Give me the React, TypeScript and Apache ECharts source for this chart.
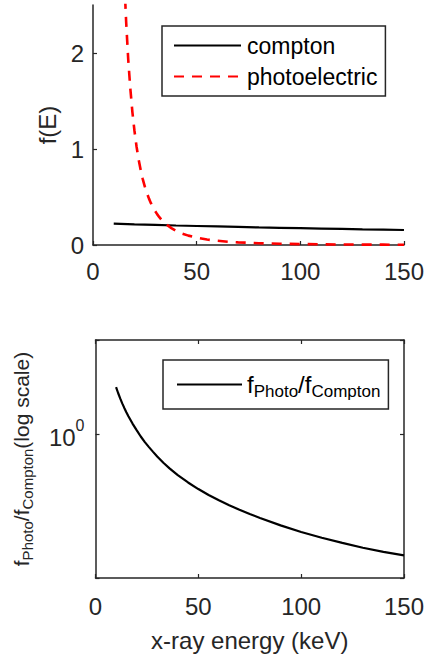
import React, { useEffect, useRef } from 'react';
import * as echarts from 'echarts';

// ---- data ----
const photoEnergy = [10, 11, 12, 13, 14, 15, 16, 17, 18, 19, 20, 21, 22, 23, 24, 25, 26, 27, 28, 29, 30, 31, 32, 33, 34, 36, 38, 40, 43, 46, 50, 55, 60, 65, 70, 80, 90, 100, 110, 120, 130, 140, 150];
const photoelectric = [9.5, 7.14, 5.5, 4.32, 3.46, 2.81, 2.32, 1.93, 1.63, 1.385, 1.19, 1.026, 0.892, 0.781, 0.687, 0.608, 0.541, 0.483, 0.433, 0.39, 0.352, 0.319, 0.29, 0.264, 0.242, 0.204, 0.173, 0.148, 0.119, 0.0976, 0.076, 0.0571, 0.044, 0.0346, 0.0277, 0.0186, 0.013, 0.0095, 0.0071, 0.0055, 0.0043, 0.0035, 0.0028];

const comptonEnergy = [10, 20, 30, 40, 50, 60, 70, 80, 90, 100, 110, 120, 130, 140, 150];
const compton = [0.222, 0.215, 0.209, 0.203, 0.198, 0.193, 0.188, 0.183, 0.179, 0.175, 0.171, 0.167, 0.163, 0.16, 0.156];

const ratioEnergy = [10, 11, 12, 13, 14, 15, 16, 18, 20, 22, 24, 26, 28, 30, 33, 36, 40, 45, 50, 55, 60, 65, 70, 75, 80, 90, 100, 110, 120, 130, 140, 150];
const ratio = [1.585, 1.497, 1.421, 1.354, 1.296, 1.243, 1.196, 1.114, 1.046, 0.983, 0.931, 0.887, 0.847, 0.81, 0.762, 0.722, 0.676, 0.63, 0.591, 0.558, 0.53, 0.505, 0.484, 0.464, 0.447, 0.416, 0.39, 0.369, 0.351, 0.335, 0.322, 0.311];

const xTicks = [0, 50, 100, 150];
const topYTicks = [0, 1, 2];
const logLabelValues = [1];

const FONT = "'Liberation Sans', Arial, Helvetica, sans-serif";
const AX = '#262626';

export default function App() {
  const ref = useRef<HTMLDivElement>(null);

  useEffect(() => {
    if (!ref.current) return;
    const chart = echarts.init(ref.current, undefined, { renderer: 'svg' });

    const axisLine = { show: true, onZero: false, lineStyle: { color: AX, width: 1.5 } };
    const tickIn = { show: true, inside: true, length: 4, lineStyle: { color: AX, width: 1.2 } };

    const xBase = {
      type: 'value' as const,
      min: 0,
      max: 150,
      interval: 50,
      axisLine,
      axisTick: { ...tickIn, customValues: xTicks },
      splitLine: { show: false },
    };

    const option: any = {
      animation: false,
      textStyle: { fontFamily: FONT },
      grid: [
        { left: 93, right: 22, top: 5, bottom: 416 },
        { left: 93, right: 22, top: 340, bottom: 83 },
      ],
      xAxis: [
        {
          ...xBase,
          gridIndex: 0,
          axisLabel: { customValues: xTicks, margin: 14, fontSize: 24, color: AX, fontFamily: FONT },
        },
        {
          ...xBase,
          gridIndex: 1,
          axisLabel: { customValues: xTicks, margin: 16, fontSize: 24, color: AX, fontFamily: FONT },
          name: 'x-ray energy (keV)',
          nameLocation: 'middle',
          nameGap: 50,
          nameTextStyle: { fontSize: 24, color: AX, fontFamily: FONT },
        },
        {
          ...xBase,
          gridIndex: 1,
          position: 'top',
          axisLabel: { show: false },
        },
      ],
      yAxis: [
        {
          type: 'value',
          gridIndex: 0,
          min: 0,
          max: 2.5,
          axisLine,
          axisTick: { ...tickIn, customValues: topYTicks },
          axisLabel: { customValues: topYTicks, margin: 9, fontSize: 24, color: AX, fontFamily: FONT },
          splitLine: { show: false },
          name: 'f(E)',
          nameLocation: 'middle',
          nameRotate: 90,
          nameGap: 31,
          nameTextStyle: { fontSize: 24, color: AX, fontFamily: FONT },
        },
        {
          type: 'log',
          logBase: 10,
          gridIndex: 1,
          min: 0.25,
          max: 2.5,
          axisLine,
          axisTick: tickIn,
          splitLine: { show: false },
          axisLabel: {
            margin: 11,
            formatter: (v: number) => (logLabelValues.some((t) => Math.abs(v - t) < 1e-9) ? '{b|10}{s|0}' : ''),
            rich: {
              b: { fontSize: 24, color: AX, fontFamily: FONT, lineHeight: 24, padding: [6, 0, 0, 0] },
              s: { fontSize: 16, color: AX, fontFamily: FONT, lineHeight: 24, padding: [0, 0, 19, 0] },
            },
          },
          name: '{n|f}{s|Photo}{n|/f}{s|Compton}{n|(log scale)}',
          nameLocation: 'middle',
          nameRotate: 90,
          nameGap: 62,
          nameTextStyle: {
            rich: {
              n: { fontSize: 21, color: AX, fontFamily: FONT, lineHeight: 24 },
              s: { fontSize: 15, color: AX, fontFamily: FONT, lineHeight: 24, padding: [12, 0, 0, 0] },
            },
          },
        },
        {
          type: 'log',
          logBase: 10,
          gridIndex: 1,
          position: 'right',
          min: 0.25,
          max: 2.5,
          axisLine,
          axisTick: tickIn,
          splitLine: { show: false },
          axisLabel: { show: false },
        },
      ],
      legend: [
        {
          data: ['compton', 'photoelectric'],
          orient: 'vertical',
          left: 162,
          top: 26,
          padding: [8, 8, 8, 11],
          itemWidth: 67,
          itemHeight: 23,
          itemGap: 8,
          borderColor: AX,
          borderWidth: 1.5,
          borderRadius: 0,
          backgroundColor: '#fff',
          selectedMode: false,
          itemStyle: { opacity: 0 },
          textStyle: { fontSize: 23, color: '#000', fontFamily: FONT, lineHeight: 23, padding: [0, 0, 0, 1] },
        },
        {
          data: ['ratio'],
          orient: 'vertical',
          left: 163,
          top: 360,
          padding: [9, 8, 9, 13],
          itemWidth: 65,
          itemHeight: 26,
          borderColor: AX,
          borderWidth: 1.5,
          borderRadius: 0,
          backgroundColor: '#fff',
          selectedMode: false,
          itemStyle: { opacity: 0 },
          formatter: () => '{n|f}{s|Photo}{n|/f}{s|Compton}',
          textStyle: {
            rich: {
              n: { fontSize: 24, color: '#000', fontFamily: FONT, lineHeight: 26 },
              s: { fontSize: 17, color: '#000', fontFamily: FONT, lineHeight: 26, padding: [14, 0, 0, 0] },
            },
          },
        },
      ],
      series: [
        {
          type: 'line',
          name: 'compton',
          xAxisIndex: 0,
          yAxisIndex: 0,
          data: comptonEnergy.map((e, i) => [e, compton[i]]),
          symbol: 'none',
          color: '#000',
          lineStyle: { color: '#000', width: 2.2 },
        },
        {
          type: 'line',
          name: 'photoelectric',
          xAxisIndex: 0,
          yAxisIndex: 0,
          data: photoEnergy.map((e, i) => [e, photoelectric[i]]),
          symbol: 'none',
          color: '#ff0000',
          clip: true,
          lineStyle: { color: '#ff0000', width: 2.6, type: [10, 8] },
        },
        {
          type: 'line',
          name: 'ratio',
          xAxisIndex: 1,
          yAxisIndex: 1,
          data: ratioEnergy.map((e, i) => [e, ratio[i]]),
          symbol: 'none',
          color: '#000',
          lineStyle: { color: '#000', width: 2.2 },
        },
      ],
    };

    chart.setOption(option);
    return () => chart.dispose();
  }, []);

  return (
    <div
      ref={ref}
      style={{ position: 'fixed', left: 0, top: 0, width: 427, height: 661, background: '#fff' }}
    />
  );
}
